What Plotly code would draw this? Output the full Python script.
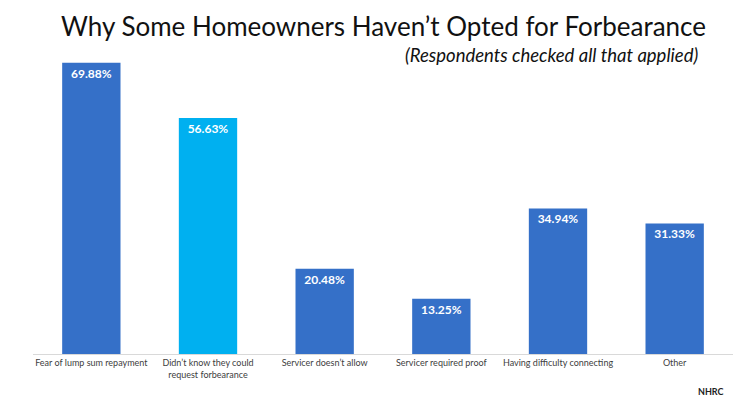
import plotly.graph_objects as go

categories = [
    "Fear of lump sum repayment",
    "Didn’t know they could<br>request forbearance",
    "Servicer doesn’t allow",
    "Servicer required proof",
    "Having difficulty connecting",
    "Other",
]
values = [69.88, 56.63, 20.48, 13.25, 34.94, 31.33]
labels = [f"{v:.2f}%" for v in values]
colors = ["#3570C8", "#00B0F0", "#3570C8", "#3570C8", "#3570C8", "#3570C8"]

FONT = "Lato, 'Open Sans', sans-serif"

fig = go.Figure(
    go.Bar(
        x=categories,
        y=values,
        text=labels,
        textposition="inside",
        insidetextanchor="end",
        textangle=0,
        textfont=dict(family=FONT, size=12, color="white", weight="bold"),
        marker=dict(color=colors, line=dict(width=0)),
        width=0.5,
        hoverinfo="skip",
    )
)

fig.update_layout(
    width=750,
    height=398,
    margin=dict(l=25, r=25, t=46, b=52),
    paper_bgcolor="white",
    plot_bgcolor="white",
    showlegend=False,
    font=dict(family=FONT, color="#404040"),
    uniformtext=dict(minsize=12, mode="show"),
    xaxis=dict(
        automargin=False,
        showline=True,
        linecolor="#D9D9D9",
        linewidth=1,
        ticks="",
        tickfont=dict(size=9, color="#404040"),
        showgrid=False,
    ),
    yaxis=dict(range=[0, 72], visible=False, showgrid=False, automargin=False),
    annotations=[
        dict(
            text="Why Some Homeowners Haven’t Opted for Forbearance",
            xref="paper", yref="paper", x=0.5, y=1, yshift=28,
            xanchor="center", yanchor="middle", showarrow=False,
            font=dict(family=FONT, size=26, color="#111111"),
        ),
        dict(
            text="<i>(Respondents checked all that applied)</i>",
            xref="paper", yref="paper", x=(692 - 25) / 700, y=1, yshift=-1,
            xanchor="right", yanchor="middle", showarrow=False,
            font=dict(family=FONT, size=18.5, color="#111111"),
        ),
        dict(
            text="<b>NHRC</b>",
            xref="paper", yref="paper", x=(718 - 25) / 700, y=0, yshift=-37,
            xanchor="right", yanchor="middle", showarrow=False,
            font=dict(family=FONT, size=9, color="#222222"),
        ),
    ],
)

fig.write_html("out.html")
